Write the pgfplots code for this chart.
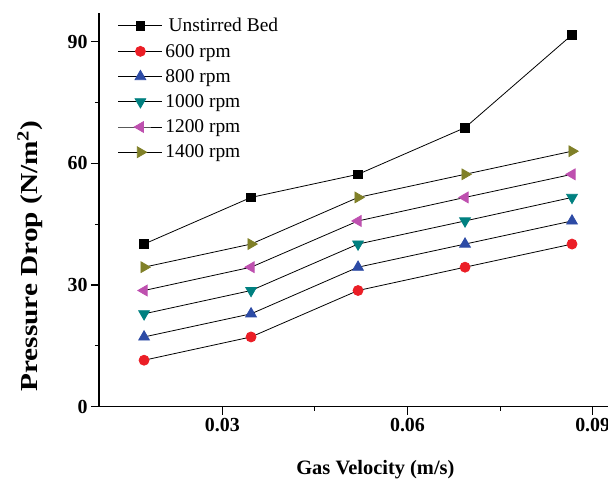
\documentclass[border=0pt]{standalone}
\usepackage{fontspec}
\setmainfont{Liberation Serif}
\usepackage{graphicx}
\usepackage{pgfplots}
\pgfplotsset{compat=1.18}

\definecolor{cred}{RGB}{235,30,38}
\definecolor{cblue}{RGB}{45,75,165}
\definecolor{cteal}{RGB}{0,128,128}
\definecolor{cmag}{RGB}{190,80,175}
\definecolor{colive}{RGB}{128,128,40}

\begin{document}
\begin{tikzpicture}
\begin{axis}[
    at={(0,0)}, anchor=south west,
    scale only axis, width=509bp, height=393.4bp,
    xmin=0.01003, xmax=0.09248,
    ymin=0, ymax=97,
    axis x line*=bottom, axis y line*=left,
    axis line style={line width=1.2pt},
    xtick={0.03,0.06,0.09}, ytick={0,30,60,90},
    minor x tick num=1, minor y tick num=1,
    tick align=outside,
    major tick length=8bp, minor tick length=4bp,
    tick style={line width=1.1pt, black},
    xticklabel style={/pgf/number format/fixed, /pgf/number format/precision=2},
    /pgf/number format/assume math mode=true,
    ticklabel style={font=\fontsize{20}{22}\selectfont\bfseries},
    scaled x ticks=false,
    xlabel={Gas Velocity (m/s)},
    ylabel={\scalebox{1.2}[1]{Pressure Drop (N/m\textsuperscript{2})}},
    xlabel style={font=\fontsize{20.5}{22}\selectfont\bfseries,
        at={(axis description cs:0.543,-0.172)}, anchor=base},
    ylabel style={font=\fontsize{24.5}{26}\selectfont\bfseries,
        at={(axis description cs:-0.1356,0.383)}, anchor=center},
    every axis plot/.append style={line width=0.8pt, black},
    legend style={draw=none, fill=none, at={(axis description cs:0.037,0.994)},
        anchor=north west, font=\fontsize{19.5}{21}\selectfont,
        inner sep=0pt, row sep=5.8bp,
        nodes={inner sep=2.5bp}},
    legend cell align=left,
    legend image code/.code={
        \draw[mark repeat=2,mark phase=2] plot coordinates {(0bp,0bp)(22bp,0bp)(44bp,0bp)};},
]
\addplot[mark=square*, mark size=4.4bp, mark options={fill=black, draw=black}]
    coordinates {(0.01733,40.1)(0.03466,51.6)(0.05199,57.3)(0.06932,68.8)(0.08665,91.7)};
\addlegendentry{\,Unstirred Bed}
\addplot[mark=*, mark size=5bp, mark options={fill=cred, draw=cred}]
    coordinates {(0.01733,11.46)(0.03466,17.2)(0.05199,28.65)(0.06932,34.4)(0.08665,40.1)};
\addlegendentry{600 rpm}
\addplot[mark=triangle*, mark size=6.2bp, mark options={fill=cblue, draw=cblue}]
    coordinates {(0.01733,17.2)(0.03466,22.9)(0.05199,34.4)(0.06932,40.1)(0.08665,45.8)};
\addlegendentry{800 rpm}
\addplot[mark=triangle*, mark size=6.2bp, mark options={fill=cteal, draw=cteal, rotate=180}]
    coordinates {(0.01733,22.9)(0.03466,28.65)(0.05199,40.1)(0.06932,45.8)(0.08665,51.6)};
\addlegendentry{1000 rpm}
\addplot[mark=triangle*, mark size=6.2bp, mark options={fill=cmag, draw=cmag, rotate=90}]
    coordinates {(0.01733,28.65)(0.03466,34.4)(0.05199,45.8)(0.06932,51.6)(0.08665,57.3)};
\addlegendentry{1200 rpm}
\addplot[mark=triangle*, mark size=6.2bp, mark options={fill=colive, draw=colive, rotate=-90}]
    coordinates {(0.01733,34.4)(0.03466,40.1)(0.05199,51.6)(0.06932,57.3)(0.08665,63.0)};
\addlegendentry{1400 rpm}
\end{axis}
\pgfresetboundingbox
\path[use as bounding box] (-99bp,-73.3bp) rectangle (509bp,406.7bp);
\end{tikzpicture}
\end{document}
